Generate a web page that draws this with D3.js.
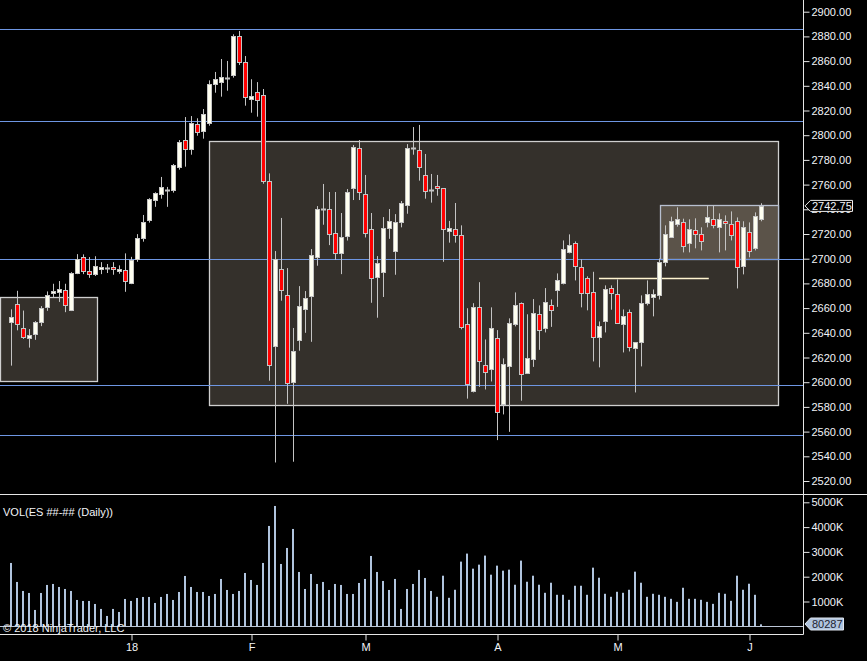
<!DOCTYPE html>
<html>
<head>
<meta charset="utf-8">
<script src="https://cdn.jsdelivr.net/npm/d3@7"></script>
<style>
    body { margin: 0; background: #000; }
    svg { display: block; }
    text { font-family: "Liberation Sans", Arial, sans-serif; }
</style>
</head>
<body>
<div class="canvas"></div>
<script>
// daily ES bars, one entry per session
const opens = [
    2649, 2663, 2644, 2635.5, 2638.4, 2648.4, 2660.2, 2672, 2673.2, 2674.3,
    2658.4, 2688.6, 2701, 2690.2, 2687, 2691.8, 2692.6, 2692.9, 2689.7, 2690.5,
    2680.2, 2699.4, 2716.1, 2730.8, 2747, 2752.2, 2755.9, 2755.9, 2774.5, 2795.9,
    2788.6, 2808.8, 2803.2, 2809.6, 2841.2, 2842.8, 2846.6, 2848.5, 2880.3, 2859,
    2829.1, 2834.7, 2832.3, 2762.7, 2629.8, 2691.3, 2670.3, 2599.9, 2633.8, 2659,
    2669.3, 2701, 2740.2, 2740, 2720.5, 2704.3, 2718.4, 2757, 2789.4, 2752.2,
    2723.8, 2684.9, 2688.9, 2724.6, 2706, 2729.4, 2743.2, 2789.9, 2787.8, 2767.5,
    2755.9, 2758.6, 2757, 2722.2, 2723.8, 2718.9, 2647, 2592.9, 2660.6, 2613.6,
    2610.3, 2635.4, 2582, 2612.8, 2646.8, 2663.8, 2607.9, 2618.4, 2654.9, 2643.5,
    2662.2, 2674.3, 2680, 2705.1, 2712.4, 2693, 2684.1, 2672.7, 2636.3, 2649.2,
    2675.9, 2671.1, 2646.8, 2656.5, 2627.4, 2632.2, 2663.8, 2668.7, 2670.3, 2697.2,
    2717.3, 2727.8, 2729.4, 2712.4, 2722.9, 2719.7, 2729.4, 2731.9, 2725.4, 2730.3,
    2727.8, 2730.3, 2693.8, 2721.3, 2708.3, 2731.9
];
const highs = [
    2659, 2674, 2658, 2643, 2649.5, 2661.6, 2673.5, 2679.7, 2681.9, 2679.7,
    2689.1, 2703.7, 2703.5, 2701.3, 2702, 2697.2, 2695.7, 2697.2, 2694.6, 2704.3,
    2701.5, 2719.9, 2735.4, 2749, 2753.8, 2766.2, 2758.1, 2776.7, 2796.1, 2814.7,
    2815.5, 2813.7, 2821.2, 2844.4, 2851.2, 2861.7, 2860.1, 2881.7, 2884.4, 2864.1,
    2845.3, 2843, 2837.4, 2769.1, 2706.2, 2733, 2692.4, 2643.9, 2677.8, 2673.8,
    2707.8, 2742.6, 2760.5, 2754, 2754, 2737, 2756.4, 2792.1, 2796.1, 2767.8,
    2737, 2702.1, 2733.7, 2740.2, 2736.1, 2746.7, 2792.8, 2806.6, 2808.3, 2784.8,
    2768.6, 2767.8, 2757, 2730.6, 2745.1, 2727, 2659.9, 2664, 2681, 2634.6,
    2660.6, 2642.2, 2619.3, 2651.7, 2672.7, 2664.6, 2655, 2667.3, 2662.2, 2676.2,
    2667, 2688.1, 2714.8, 2719.7, 2714, 2699.4, 2685.7, 2689.4, 2649.2, 2678.4,
    2678.4, 2683.2, 2658.9, 2658.9, 2632.2, 2670.3, 2682.4, 2675.1, 2700.2, 2727,
    2734, 2741.6, 2732.4, 2731.9, 2732.7, 2725.4, 2743.2, 2743.2, 2736.7, 2735.1,
    2738.3, 2733.4, 2730.3, 2729.4, 2737.5, 2744.9
];
const lows = [
    2613.4, 2642, 2635, 2628, 2634.3, 2645.4, 2657.8, 2669, 2665, 2656.7,
    2657.6, 2687.5, 2687.5, 2684.5, 2686, 2687.5, 2688.4, 2687, 2687.8, 2673.2,
    2679.4, 2697.5, 2713.8, 2729.2, 2742, 2748.6, 2742, 2753.5, 2772.1, 2774.5,
    2784.2, 2799.6, 2797.2, 2807.7, 2834.4, 2831.2, 2836, 2846.6, 2856.8, 2823.9,
    2818.2, 2815, 2760.7, 2601.2, 2535, 2666, 2582.5, 2535.6, 2625.5, 2640,
    2632.7, 2694.3, 2727.5, 2711, 2699.1, 2687.5, 2714.7, 2747.5, 2747.5, 2717.2,
    2664.3, 2652.2, 2669, 2716.1, 2687, 2725.4, 2736.4, 2784.2, 2763.2, 2748.6,
    2745.4, 2751, 2697.5, 2713, 2713, 2642.8, 2586.7, 2591.7, 2596.2, 2594.1,
    2600.6, 2553.1, 2573.9, 2559.8, 2645.2, 2585, 2607.9, 2612.4, 2626.2, 2640.3,
    2644.8, 2661, 2679.2, 2704.3, 2682.4, 2660.6, 2658.2, 2616.8, 2612, 2640.3,
    2658.7, 2647.6, 2624.1, 2624.9, 2591.7, 2612.8, 2662.2, 2653.3, 2667, 2693.8,
    2717.3, 2725.9, 2705.1, 2705.1, 2708.4, 2706.7, 2725.4, 2724.6, 2705.1, 2706.7,
    2714.8, 2675.9, 2687.3, 2701.1, 2706.7, 2730.3
];
const closes = [
    2652.8, 2647, 2637, 2638, 2648.4, 2659.8, 2670.3, 2673.8, 2675.4, 2661.8,
    2688.3, 2700, 2689.7, 2687.5, 2693.8, 2693.2, 2692.6, 2691.3, 2691.6, 2681.6,
    2698.6, 2716.4, 2729.4, 2748.1, 2753, 2757.8, 2755.9, 2775.9, 2794.5, 2788.3,
    2809.6, 2802.4, 2816.9, 2841.2, 2845.3, 2846.9, 2846.6, 2880.3, 2859, 2830.7,
    2831.5, 2828.3, 2762.4, 2613.7, 2700, 2674.4, 2599.1, 2625.2, 2661.4, 2667.8,
    2702.7, 2740, 2740.2, 2719.7, 2704.3, 2717.3, 2754.4, 2790.2, 2753.8, 2720.5,
    2684.1, 2696.2, 2724.6, 2730.3, 2729.4, 2744.9, 2789.4, 2789.9, 2774, 2754.4,
    2755.9, 2757, 2723.8, 2724.6, 2718.9, 2644.4, 2598.5, 2660.7, 2616.8, 2607.9,
    2643.5, 2575.5, 2614.4, 2647.6, 2662.2, 2606.3, 2620, 2655.7, 2641.9, 2664.6,
    2658.2, 2682.4, 2707.5, 2710.8, 2693.8, 2671.9, 2671.9, 2636.3, 2645.2, 2675.1,
    2671.9, 2647.6, 2653.3, 2628.2, 2632.2, 2663.8, 2671.1, 2671.1, 2697, 2719.7,
    2730.3, 2731.9, 2710, 2723.8, 2719.7, 2713.7, 2733.4, 2727, 2731.9, 2728.6,
    2718.9, 2693, 2725.4, 2705.9, 2734.2, 2742.75
];
// volume in thousands of contracts
const volumes = [
    2554, 1788, 1425, 1344, 659, 1344, 1667, 1707, 1586, 1505,
    1425, 1062, 1022, 1022, 900, 700, 417, 700, 578, 1102,
    1022, 1142, 1183, 1183, 941, 1183, 1304, 1062, 1384, 2030,
    1586, 1384, 1384, 1223, 1304, 1909, 1465, 1304, 1425, 2150,
    1868, 1667, 2554, 4046, 4852, 2513, 3159, 3925, 2191, 1505,
    2110, 1707, 1788, 1465, 1707, 1667, 1304, 1304, 1747, 1909,
    2836, 2191, 1828, 1465, 1909, 700, 1505, 1707, 2272, 1949,
    1425, 1189, 2040, 1149, 1473, 2608, 2932, 2324, 2486, 2851,
    2081, 2446, 2243, 2284, 1676, 2649, 1797, 2040, 1676, 1351,
    1757, 1270, 1270, 1068, 1635, 1635, 1270, 2365, 1959, 1311,
    1189, 1392, 1351, 1473, 2203, 1757, 1189, 1311, 1270, 1189,
    1108, 986, 1554, 1108, 1108, 1068, 986, 905, 1351, 1311,
    1027, 2040, 1473, 1716, 1270, 80.287
];

const priceTicks = [2520, 2540, 2560, 2580, 2600, 2620, 2640, 2660, 2680, 2700,
    2720, 2740, 2760, 2780, 2800, 2820, 2840, 2860, 2880, 2900];
const volTicks = [1000, 2000, 3000, 4000, 5000];
const dateTickIdx = [20, 40, 59, 81, 101, 123];
const dateTickLabels = ["18", "F", "M", "A", "M", "J"];

// drawn objects: price levels, zones and a marker line
const levels = [2885.7, 2811.3, 2700, 2597.4, 2557];
const zones = [
    { x0: 33, x1: 127.8, top: 2795, bottom: 2581.2, fill: "#34302b", stroke: "#cfcfcf" },
    { x0: -1.83, x1: 14.3, top: 2668.7, bottom: 2600.6, fill: "#34302b", stroke: "#cfcfcf" },
    { x0: 108.2, x1: 127.8, top: 2743.2, bottom: 2699.4, fill: "#5b5349", stroke: "#b7bfcf" },
];
const marker = { x0: 98, x1: 116.3, price: 2684 };

const width = 867, height = 661;
const axisX = 803.5;
const lastPrice = 2742.75;

const upColor = "#fffff0";
const downColor = "#ff0000";
const wickColor = "#c4c4c4";
const volColor = "#b0c4de";
const levelColor = "#6e96e2";
const textColor = "#f2f4f8";

const svg = d3
    .select(".canvas")
    .append("svg")
    .attr("width", width)
    .attr("height", height)
    .style("background", "#000");

const x = d3.scaleLinear().domain([0, 125]).range([11, 761]);
const y = d3.scaleLinear().domain([2520, 2900]).range([481, 11.7]);
const yVol = d3.scaleLinear().domain([0, 5000]).range([626.3, 502.3]);

const px = (v) => Math.round(v) + 0.5;

// zones
svg.append("g")
    .selectAll("rect")
    .data(zones)
    .enter()
    .append("rect")
    .attr("x", (d) => px(x(d.x0)))
    .attr("y", (d) => px(y(d.top)))
    .attr("width", (d) => Math.round(x(d.x1) - x(d.x0)))
    .attr("height", (d) => Math.round(y(d.bottom) - y(d.top)))
    .attr("fill", (d) => d.fill)
    .attr("stroke", (d) => d.stroke)
    .attr("stroke-width", 1.3);

// horizontal levels
svg.append("g")
    .selectAll("line")
    .data(levels)
    .enter()
    .append("line")
    .attr("x1", 0)
    .attr("x2", axisX)
    .attr("y1", (d) => px(y(d)))
    .attr("y2", (d) => px(y(d)))
    .attr("stroke", levelColor)
    .attr("stroke-width", 1);

svg.append("line")
    .attr("x1", x(marker.x0))
    .attr("x2", x(marker.x1))
    .attr("y1", px(y(marker.price)))
    .attr("y2", px(y(marker.price)))
    .attr("stroke", "#fff4d0")
    .attr("stroke-width", 1.5);

// candles
const bars = opens.map((o, i) => ({
    i: i, o: o, h: highs[i], l: lows[i], c: closes[i], v: volumes[i],
}));

const candle = svg.append("g")
    .selectAll("g")
    .data(bars)
    .enter()
    .append("g");

candle.append("line")
    .attr("x1", (d) => px(x(d.i)))
    .attr("x2", (d) => px(x(d.i)))
    .attr("y1", (d) => y(d.h))
    .attr("y2", (d) => y(d.l))
    .attr("stroke", wickColor)
    .attr("stroke-width", 1);

candle.filter((d) => d.o !== d.c)
    .append("rect")
    .attr("x", (d) => Math.round(x(d.i)) - 1.5)
    .attr("width", 4)
    .attr("y", (d) => px(y(Math.max(d.o, d.c))))
    .attr("height", (d) => Math.max(1, Math.round(y(Math.min(d.o, d.c)) - y(Math.max(d.o, d.c)))))
    .attr("fill", (d) => (d.c > d.o ? upColor : downColor))
    .attr("stroke", wickColor)
    .attr("stroke-width", 1);

candle.filter((d) => d.o === d.c)
    .append("line")
    .attr("x1", (d) => Math.round(x(d.i)) - 2)
    .attr("x2", (d) => Math.round(x(d.i)) + 3)
    .attr("y1", (d) => px(y(d.o)))
    .attr("y2", (d) => px(y(d.o)))
    .attr("stroke", wickColor)
    .attr("stroke-width", 2);

// volume bars
svg.append("g")
    .selectAll("rect")
    .data(bars)
    .enter()
    .append("rect")
    .attr("x", (d) => Math.round(x(d.i)) - 1)
    .attr("width", 2)
    .attr("y", (d) => yVol(d.v))
    .attr("height", (d) => yVol(0) - yVol(d.v))
    .attr("fill", volColor);

svg.append("line")
    .attr("x1", 0).attr("x2", axisX)
    .attr("y1", px(yVol(0))).attr("y2", px(yVol(0)))
    .attr("stroke", "#bcc6d6");

// frame lines
svg.append("line")
    .attr("x1", axisX).attr("x2", axisX)
    .attr("y1", 0).attr("y2", 634.5)
    .attr("stroke", "#e6e6e6");
svg.append("line")
    .attr("x1", 0).attr("x2", axisX)
    .attr("y1", 634.5).attr("y2", 634.5)
    .attr("stroke", "#e6e6e6");
svg.append("line")
    .attr("x1", 0).attr("x2", width)
    .attr("y1", 494.5).attr("y2", 494.5)
    .attr("stroke", "#e6e6e6");

// axes
const priceAxis = d3.axisRight(y)
    .tickValues(priceTicks)
    .tickFormat(d3.format(".2f"))
    .tickSize(6)
    .tickPadding(2);
const volAxis = d3.axisRight(yVol)
    .tickValues(volTicks)
    .tickFormat((d) => d + "K")
    .tickSize(6)
    .tickPadding(2);
const dateAxis = d3.axisBottom(x)
    .tickValues(dateTickIdx)
    .tickFormat((d, i) => dateTickLabels[i])
    .tickSize(6)
    .tickPadding(3);

const priceAxisGroup = svg.append("g").attr("transform", `translate(${axisX},0)`).call(priceAxis);
const volAxisGroup = svg.append("g").attr("transform", `translate(${axisX},0)`).call(volAxis);
const dateAxisGroup = svg.append("g").attr("transform", `translate(0.5,634.5)`).call(dateAxis);

[priceAxisGroup, volAxisGroup, dateAxisGroup].forEach((g) => {
    g.select(".domain").remove();
    g.selectAll(".tick line").attr("stroke", "#e6e6e6");
    g.selectAll(".tick text")
        .attr("fill", textColor)
        .style("font-size", "11px")
        .style("font-family", "'Liberation Sans', Arial, sans-serif");
});

// last price marker
const lpY = y(lastPrice);
const lp = svg.append("g");
lp.append("path")
    .attr("d", `M${axisX + 1.5},${lpY} L${axisX + 7},${lpY - 5.5} L852.5,${lpY - 5.5} L852.5,${lpY + 5.5} L${axisX + 7},${lpY + 5.5} Z`)
    .attr("fill", "#000")
    .attr("stroke", "#f0f0f0");
lp.append("text")
    .attr("x", 812)
    .attr("y", lpY + 4)
    .attr("fill", textColor)
    .style("font-size", "11px")
    .text(lastPrice.toFixed(2));

// last volume marker
const lvY = 624;
const lv = svg.append("g");
lv.append("path")
    .attr("d", `M${axisX + 1.5},${lvY} L${axisX + 7},${lvY - 6} L843.5,${lvY - 6} L843.5,${lvY + 6} L${axisX + 7},${lvY + 6} Z`)
    .attr("fill", volColor)
    .attr("stroke", "#dfe6f0");
lv.append("text")
    .attr("x", 812)
    .attr("y", lvY + 4)
    .attr("fill", "#1c2230")
    .style("font-size", "11px")
    .text(Math.round(volumes[volumes.length - 1] * 1000));

// labels
svg.append("text")
    .attr("x", 3)
    .attr("y", 516)
    .attr("fill", textColor)
    .style("font-size", "11px")
    .text("VOL(ES ##-## (Daily))");

svg.append("text")
    .attr("x", 3)
    .attr("y", 632)
    .attr("fill", textColor)
    .style("font-size", "11px")
    .text("© 2018 NinjaTrader, LLC");
</script>
</body>
</html>
